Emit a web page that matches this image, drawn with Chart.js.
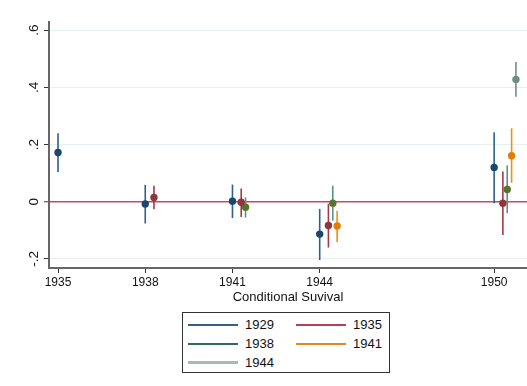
<!DOCTYPE html>
<html>
<head>
<meta charset="utf-8">
<script src="https://cdn.jsdelivr.net/npm/chart.js@4"></script>
<style>
  body { margin: 0; background: #fff; font-family: "Liberation Sans", Arial, sans-serif; }
  #wrap { position: relative; width: 527px; height: 386px; }
  #box { position: absolute; left: 0; top: 0; width: 527px; height: 310px; }
  #legend { position: absolute; left: 182px; top: 312px; width: 208px; height: 61px;
            border: 1px solid #333; box-sizing: border-box; }
  .item { position: absolute; font-size: 13px; color: #111; line-height: 14px; }
  .item span { position: absolute; left: 57px; top: -7px; }
  .item i { position: absolute; left: 0; width: 50px; }
</style>
</head>
<body>
<div id="wrap">
  <div id="box"><canvas id="chart"></canvas></div>
  <div id="legend"></div>
</div>
<script>
// survival horizons on the x axis
const years = [1935, 1938, 1941, 1944, 1950];
const yearLabels = ["1935", "1938", "1941", "1944", "1950"];
const yTicks = [-0.2, 0, 0.2, 0.4, 0.6];
const yTickLabels = ["-.2", "0", ".2", ".4", ".6"];

// birth cohorts (series)
const cohorts = ["1929", "1935", "1938", "1941", "1944"];

// point estimates and 95% CI bounds per cohort, one entry per year (null = none)
const est1929 = [0.172, -0.008, 0.002, -0.113, 0.120];
const lo1929  = [0.104, -0.076, -0.057, -0.204, -0.005];
const hi1929  = [0.239, 0.059, 0.060, -0.025, 0.243];

const est1935 = [null, 0.015, -0.002, -0.083, -0.005];
const lo1935  = [null, -0.026, -0.053, -0.160, -0.116];
const hi1935  = [null, 0.056, 0.046, -0.007, 0.106];

const est1938 = [null, null, -0.019, -0.005, 0.043];
const lo1938  = [null, null, -0.055, -0.066, -0.040];
const hi1938  = [null, null, 0.015, 0.056, 0.127];

const est1941 = [null, null, null, -0.085, 0.161];
const lo1941  = [null, null, null, -0.141, 0.066];
const hi1941  = [null, null, null, -0.032, 0.257];

const est1944 = [null, null, null, null, 0.427];
const lo1944  = [null, null, null, null, 0.367];
const hi1944  = [null, null, null, null, 0.488];

const ests = [est1929, est1935, est1938, est1941, est1944];
const los = [lo1929, lo1935, lo1938, lo1941, lo1944];
const his = [hi1929, hi1935, hi1938, hi1941, hi1944];

// styling
const dodge = [0, 0.3, 0.45, 0.6, 0.75];
const markerColors = ["#1a476f", "#90353b", "#55752f", "#e37e00", "#6e8e84"];
const ciColors = ["#2f5f8c", "#a03a46", "#5f8f86", "#f0900a", "#6e8e84"];
const legendColors = ["#2f6290", "#b8434f", "#2f6b62", "#e38a1e", "#a3bdb5"];
const legendWidths = [1.5, 1.5, 1.5, 1.5, 2.5];

const datasets = cohorts.map((c, i) => {
  const pts = [];
  years.forEach((yr, j) => {
    if (ests[i][j] !== null) pts.push({ x: yr + dodge[i], y: ests[i][j], lo: los[i][j], hi: his[i][j] });
  });
  return {
    label: c,
    data: pts,
    backgroundColor: markerColors[i],
    borderColor: markerColors[i],
    pointRadius: 3.7,
    pointHoverRadius: 3.7,
    borderWidth: 0
  };
});

// vertical CI lines, drawn under the markers
const ciPlugin = {
  id: "ci",
  beforeDatasetsDraw(chart) {
    const ctx = chart.ctx, xs = chart.scales.x, ys = chart.scales.y;
    ctx.save();
    chart.data.datasets.forEach((ds, i) => {
      ctx.strokeStyle = ciColors[i];
      ctx.lineWidth = 1.6;
      ds.data.forEach(p => {
        const px = xs.getPixelForValue(p.x);
        ctx.beginPath();
        ctx.moveTo(px, ys.getPixelForValue(p.lo));
        ctx.lineTo(px, ys.getPixelForValue(p.hi));
        ctx.stroke();
      });
    });
    ctx.restore();
  }
};

// rotated y tick labels (Stata style)
const yLabelPlugin = {
  id: "ylabels",
  afterDraw(chart) {
    const ctx = chart.ctx, ys = chart.scales.y;
    ctx.save();
    ctx.fillStyle = "#111";
    ctx.font = "13.5px 'Liberation Sans', Arial, sans-serif";
    ctx.textAlign = "center";
    ctx.textBaseline = "middle";
    ys.ticks.forEach(t => {
      ctx.save();
      ctx.translate(34, ys.getPixelForValue(t.value));
      ctx.rotate(-Math.PI / 2);
      ctx.fillText(yTickLabels[yTicks.indexOf(t.value)], 0, 0);
      ctx.restore();
    });
    ctx.restore();
  }
};

new Chart(document.getElementById("chart"), {
  type: "scatter",
  data: { datasets: datasets },
  plugins: [ciPlugin, yLabelPlugin],
  options: {
    responsive: true,
    maintainAspectRatio: false,
    animation: false,
    layout: { autoPadding: false, padding: { top: 22, right: 0, left: 0, bottom: 0 } },
    plugins: { legend: { display: false }, tooltip: { enabled: false } },
    scales: {
      x: {
        type: "linear",
        min: 1934.69,
        max: 1951.13,
        afterBuildTicks: s => { s.ticks = years.map(v => ({ value: v })); },
        afterFit: s => { s.height = 42; },
        ticks: {
          color: "#111",
          font: { size: 12, family: "'Liberation Sans', Arial, sans-serif" },
          padding: 2,
          maxRotation: 0,
          autoSkip: false,
          callback: v => yearLabels[years.indexOf(v)]
        },
        grid: { drawOnChartArea: false, drawTicks: true, tickLength: 5, tickColor: "#333", tickWidth: 1 },
        border: { color: "#666", width: 2 },
        title: {
          display: true,
          text: "Conditional Suvival",
          color: "#111",
          font: { size: 13, family: "'Liberation Sans', Arial, sans-serif" },
          padding: { top: 0, bottom: 5 }
        }
      },
      y: {
        min: -0.2315,
        max: 0.628,
        afterBuildTicks: s => { s.ticks = yTicks.map(v => ({ value: v })); },
        afterFit: s => { s.width = 49; },
        ticks: { display: false },
        grid: {
          color: c => (c.tick && c.tick.value === 0) ? "#c9486b" : "#e6f0f1",
          lineWidth: c => (c.tick && c.tick.value === 0) ? 1.5 : 1,
          drawTicks: true,
          tickLength: 5,
          tickColor: "#333",
          tickWidth: 1
        },
        border: { color: "#666", width: 2 }
      }
    }
  }
});

// legend box below the plot
const leg = document.getElementById("legend");
const rowsY = [12, 31, 49.5];
cohorts.forEach((c, i) => {
  const col = i % 2, row = Math.floor(i / 2);
  const d = document.createElement("div");
  d.className = "item";
  d.style.left = (col === 0 ? 5 : 113) + "px";
  d.style.top = rowsY[row] + "px";
  const ln = document.createElement("i");
  ln.style.top = (-legendWidths[i] / 2) + "px";
  ln.style.height = legendWidths[i] + "px";
  ln.style.background = legendColors[i];
  const tx = document.createElement("span");
  tx.textContent = c;
  d.appendChild(ln);
  d.appendChild(tx);
  leg.appendChild(d);
});
</script>
</body>
</html>
